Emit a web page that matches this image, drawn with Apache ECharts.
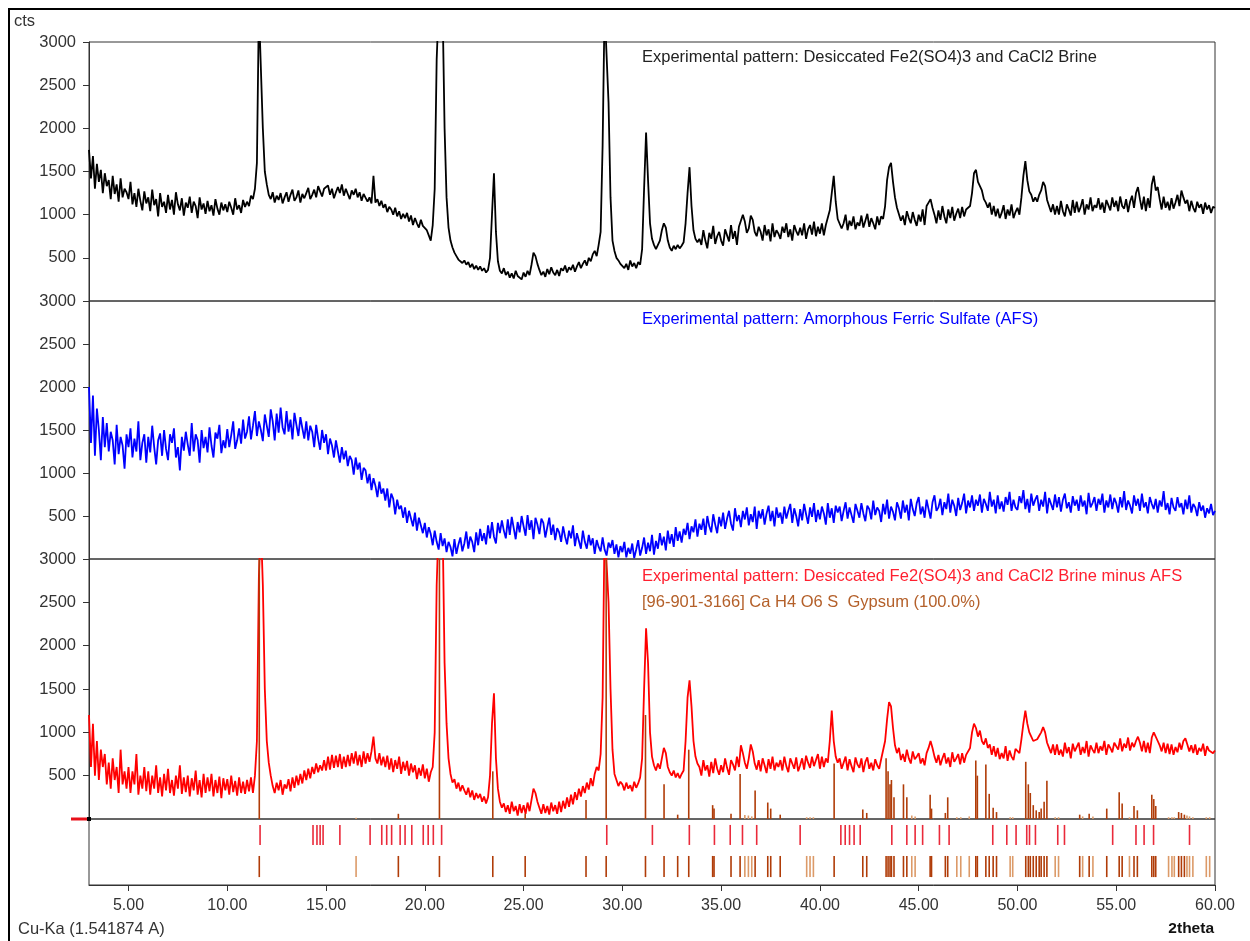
<!DOCTYPE html>
<html><head><meta charset="utf-8">
<script src="https://cdn.jsdelivr.net/npm/echarts@6/dist/echarts.min.js"></script>
<style>
html,body{margin:0;padding:0;background:#fff;}
#frame{position:absolute;left:8px;top:8px;width:1242px;height:933px;border-top:2px solid #000;border-left:2px solid #000;box-sizing:border-box;}
#chart{position:absolute;left:0;top:0;width:1250px;height:941px;}
</style></head><body>
<div id="frame"></div>
<div id="chart"></div>
<script>
// Sampling grid of the patterns (2theta, degrees)
const twoThetaStart = 3.0;
const twoThetaStep = 0.1;

// Panel 1: Desiccated Fe2(SO4)3 and CaCl2 Brine (cts), 3.0 .. 60.0 step 0.1
const brineCounts = [
1750,1420,1680,1300,1590,1380,1520,1250,1480,1330,
1400,1180,1450,1240,1350,1150,1420,1200,1300,1260,
1180,1380,1120,1250,1090,1300,1160,1050,1270,1130,
1200,1040,1290,1110,1180,980,1250,1090,1150,1020,
1230,1060,1170,1000,1260,1120,1050,1190,990,1140,
1080,1210,1020,1150,1100,960,1200,1060,1130,1010,
1160,1040,1110,990,1180,1070,1000,1140,1050,1120,
1030,1150,1080,1000,1190,1060,1110,1020,1170,1090,
1150,1100,1220,1180,1300,1600,3400,3400,2000,1500,
1350,1230,1180,1260,1140,1220,1170,1250,1130,1200,
1260,1150,1230,1290,1160,1200,1280,1140,1240,1190,
1250,1310,1180,1230,1290,1200,1330,1270,1210,1300,
1280,1340,1230,1300,1190,1260,1320,1250,1350,1220,
1300,1240,1180,1280,1230,1300,1200,1260,1160,1240,
1220,1150,1200,1130,1450,1140,1180,1100,1160,1080,
1120,1030,1090,1060,1000,1080,980,1040,950,1010,
960,1020,920,990,880,960,900,850,940,870,
880,820,760,700,880,1300,2800,3400,3400,3400,
2000,1200,850,700,620,560,520,480,500,440,
470,420,450,390,430,370,410,360,400,350,
380,330,360,500,1000,1480,800,460,350,320,
380,300,340,270,320,260,350,290,310,250,
330,280,350,300,420,560,520,430,360,300,
340,280,370,310,390,330,300,360,290,380,
350,410,330,390,360,420,340,400,450,380,
430,470,410,500,460,540,580,520,650,800,
1800,3400,3400,2300,1200,700,580,500,470,430,
450,380,430,360,470,400,440,380,450,420,
600,1300,1950,1400,900,720,650,600,620,700,
820,900,850,700,620,580,640,600,650,610,
640,680,900,1250,1550,1100,820,720,680,720,
650,820,700,610,790,720,870,660,750,800,
700,640,830,760,690,880,720,810,650,860,
870,1000,920,790,840,990,940,800,750,860,
800,700,880,760,830,690,900,740,820,780,
720,860,790,900,740,830,700,880,810,760,
850,760,900,720,830,880,770,920,750,860,
780,900,760,880,900,1050,1250,1450,1150,950,
960,840,900,1000,820,930,870,980,830,910,
870,990,850,930,1010,860,960,900,830,980,
880,980,950,1100,1400,1550,1600,1380,1200,1080,
1060,930,990,880,1040,960,900,1030,940,870,
1000,920,1060,880,1100,1140,1180,1080,1000,900,
1050,940,1100,980,900,1060,960,1090,930,1010,
1070,960,1090,980,1060,1050,1100,1250,1480,1520,
1380,1330,1280,1180,1140,1080,1140,1000,1100,980,
1070,960,1020,1110,950,1060,990,1120,960,1030,
1080,1000,1200,1450,1620,1400,1270,1230,1150,1200,
1150,1230,1280,1380,1330,1170,1100,1030,1120,1000,
1100,1000,1160,1040,980,1120,1060,990,1170,1020,
1150,1030,1090,1180,1000,1120,1060,1200,1040,1110,
1080,1190,1060,1140,1020,1170,1110,1050,1200,1090,
1160,1040,1210,1100,1070,1180,1030,1150,1220,1080,
1250,1320,1180,1060,1210,1040,1190,1080,1350,1450,
1280,1320,1180,1060,1210,1080,1150,1050,1190,1070,
1140,1230,1100,1280,1200,1130,1170,1040,1160,1080,
1030,1150,1080,1120,1010,1140,1060,1110,1020,1090,
1080];

// Panel 2: Amorphous Ferric Sulfate (AFS) (cts)
const afsCounts = [
2000,1350,1900,1200,1750,1500,1150,1650,1300,1580,
1250,1480,1380,1100,1560,1220,1420,1320,1050,1450,
1300,1520,1180,1400,1250,1600,1150,1350,1450,1120,
1420,1240,1550,1300,1100,1380,1460,1200,1500,1280,
1150,1450,1350,1520,1180,1300,1030,1420,1260,1480,
1330,1200,1580,1250,1450,1380,1120,1500,1290,1420,
1240,1530,1320,1180,1470,1400,1560,1230,1380,1290,
1510,1300,1440,1600,1280,1380,1520,1340,1620,1400,
1480,1660,1390,1550,1720,1430,1600,1500,1370,1680,
1550,1420,1740,1600,1380,1690,1470,1760,1530,1450,
1720,1480,1620,1390,1700,1560,1430,1650,1520,1400,
1600,1380,1550,1480,1300,1560,1400,1270,1500,1350,
1450,1220,1400,1320,1180,1380,1250,1120,1300,1160,
1260,1080,1200,1150,980,1180,1040,1120,920,1060,
1030,880,990,800,940,850,720,900,760,820,
680,820,600,760,700,520,690,580,620,480,
600,420,560,470,380,540,330,480,390,300,
420,250,370,290,160,330,200,110,300,150,
240,80,200,140,30,230,60,170,250,90,
180,320,120,260,200,80,310,160,350,210,
300,170,390,240,430,260,180,420,300,450,
330,240,460,280,490,360,230,430,310,500,
380,270,510,340,450,230,480,400,290,470,
420,250,370,480,280,400,220,360,310,200,
380,260,170,330,240,390,150,300,210,120,
330,200,120,280,160,240,60,220,140,90,
250,110,40,190,130,220,60,170,20,150,
80,200,20,130,60,180,10,110,220,40,
130,250,60,190,90,280,50,210,120,300,
160,260,100,330,180,290,140,370,210,320,
190,350,280,420,230,380,310,460,260,410,
340,470,280,500,380,310,520,400,300,490,
380,540,350,470,560,410,330,590,440,510,
370,560,460,600,390,520,430,610,350,560,
470,580,400,530,620,440,560,380,600,480,
540,410,610,470,560,640,420,590,500,380,
580,450,640,520,410,600,490,650,430,570,
460,610,530,400,650,480,590,420,620,540,
610,440,560,660,470,600,510,420,640,560,
480,650,530,440,620,580,460,680,510,600,
560,430,640,520,690,470,610,550,450,660,
590,470,680,540,630,450,700,580,500,650,
720,520,610,480,690,580,470,660,740,560,
600,700,510,660,580,760,540,690,620,500,
710,570,650,760,530,680,600,740,560,690,
620,750,540,700,640,560,780,610,690,530,
740,580,670,550,720,630,780,560,690,600,
570,730,650,800,580,700,540,760,620,690,
740,560,690,610,780,530,710,640,570,750,
600,720,550,690,760,590,660,540,730,620,
690,560,740,610,680,520,770,600,650,720,
560,700,630,760,540,680,600,750,580,710,
650,540,720,600,790,570,680,620,530,740,
620,700,560,760,600,660,530,720,640,580,
700,540,680,610,790,570,650,520,710,600,
560,720,600,650,520,690,580,740,540,640,
600,500,660,560,620,480,590,530,640,510,
560];

// Panel 3: Desiccated Fe2(SO4)3 and CaCl2 Brine minus AFS (cts)
const diffCounts = [
1200,600,1100,500,900,450,800,600,750,400,
650,350,700,450,600,300,800,400,550,350,
600,300,550,400,750,280,500,350,600,320,
550,280,500,350,620,300,480,260,520,330,
580,300,450,270,500,350,620,290,480,310,
500,260,470,330,560,280,450,250,520,300,
480,320,520,260,450,300,490,240,470,330,
460,280,500,310,440,270,480,300,430,290,
450,320,480,300,500,900,2800,3400,2700,1500,
900,650,500,380,300,420,330,450,280,400,
350,460,320,480,360,500,390,520,410,560,
450,580,470,600,520,640,540,620,560,680,
560,720,570,740,590,730,600,750,580,720,
600,740,610,760,640,780,620,740,600,780,
640,760,660,780,950,700,640,760,620,720,
600,730,570,700,540,680,580,720,520,660,
560,670,500,640,540,620,460,590,500,630,
470,580,430,540,600,1000,2700,3400,3400,3400,
1800,1100,700,520,420,460,350,420,320,390,
330,280,360,250,330,220,300,240,290,200,
260,180,250,500,1100,1450,700,350,200,130,
180,80,160,60,200,90,150,40,170,70,
160,60,190,90,220,350,300,200,130,60,
170,70,150,50,190,90,160,60,200,80,
210,120,250,140,280,170,310,220,350,260,
380,300,420,340,470,380,520,600,560,750,
1400,3400,3400,2500,1500,800,520,450,380,430,
400,330,420,350,390,320,430,360,410,480,
700,1500,2200,1800,1000,720,620,560,640,580,
700,820,760,600,540,500,560,480,530,470,
520,560,900,1400,1600,1300,900,720,640,600,
500,680,560,620,490,660,530,700,580,510,
620,540,700,590,510,680,630,560,720,600,
850,760,650,580,700,860,780,640,570,680,
550,700,620,530,690,580,720,560,650,600,
680,560,720,610,540,700,640,580,710,550,
620,700,570,730,650,590,720,610,680,750,
580,720,600,700,650,900,1250,900,720,650,
700,580,650,720,560,690,610,540,710,630,
590,700,540,660,710,580,650,560,690,620,
580,690,680,900,1150,1350,1300,1050,850,760,
820,680,750,660,800,700,640,780,690,720,
760,640,700,620,760,820,900,820,720,650,
740,620,700,760,640,710,600,770,660,700,
750,630,760,650,740,720,820,1000,1100,1050,
950,1020,900,860,930,820,860,740,840,720,
820,690,760,700,840,670,790,720,680,810,
800,760,920,1100,1250,1100,1000,950,900,880,
920,960,1000,1060,1000,880,820,760,860,740,
860,740,800,720,880,760,830,700,870,780,
790,880,740,830,760,900,720,850,800,760,
880,760,840,790,900,740,860,820,770,880,
900,800,930,780,870,820,940,790,880,830,
900,950,880,780,900,770,880,760,940,1000,
980,900,850,780,880,760,870,750,860,740,
830,770,880,800,900,930,860,780,850,760,
860,740,820,780,870,730,840,790,810,760,
790];

// Reference pattern [96-901-3166] Gypsum: [2theta, cts]
const gypsumLines = [
[11.62,3300],[16.52,15],[18.66,60],[20.74,3300],[23.44,550],[25.08,60],[28.16,220],[29.18,3300],
[31.17,1200],[32.11,400],[32.80,50],[33.36,800],[34.57,160],[34.64,120],[35.50,60],[35.96,520],
[36.20,45],[36.38,40],[36.55,30],[36.72,330],[37.36,190],[37.51,120],[37.99,50],[39.33,20],
[39.50,20],[39.67,20],[40.72,640],[42.17,110],[42.37,70],[43.35,700],[43.45,550],[43.55,400],
[43.62,450],[43.75,250],[44.23,400],[44.40,250],[44.65,40],[44.82,30],[45.58,280],[45.65,120],
[46.35,70],[46.47,250],[46.93,20],[47.13,20],[47.56,30],[47.89,675],[47.97,500],[48.40,630],
[48.57,290],[48.77,130],[48.94,80],[49.63,20],[49.76,20],[50.42,660],[50.55,400],[50.65,300],
[50.80,160],[50.95,100],[51.10,80],[51.20,120],[51.35,200],[51.49,440],[51.91,20],[52.08,20],
[53.15,50],[53.30,30],[53.63,60],[53.82,30],[54.52,120],[55.15,310],[55.30,180],[55.67,20],
[55.90,150],[56.07,100],[56.80,280],[56.90,230],[57.00,150],[57.65,20],[57.82,20],[57.94,20],
[58.16,80],[58.30,70],[58.45,50],[58.58,40],[58.71,30],[58.88,20],[59.56,20],[59.73,20]];

// Experimental peak list (2theta)
const peakList = [11.66,14.34,14.54,14.70,14.85,15.70,17.23,17.82,18.07,18.32,18.75,19.00,19.34,
19.92,20.17,20.43,20.85,29.21,31.52,33.39,34.66,35.46,36.08,36.80,39.00,41.06,41.28,41.50,41.73,
42.04,43.64,44.40,44.82,45.20,46.05,46.54,48.75,49.46,49.93,50.47,50.61,50.91,52.04,52.38,54.82,
56.00,56.41,56.89,58.71];

const xTickValues = [5,10,15,20,25,30,35,40,45,50,55,60];
const titles = [
  'Experimental pattern: Desiccated Fe2(SO4)3 and CaCl2 Brine',
  'Experimental pattern: Amorphous Ferric Sulfate (AFS)',
  'Experimental pattern: Desiccated Fe2(SO4)3 and CaCl2 Brine minus AFS',
  '[96-901-3166] Ca H4 O6 S  Gypsum (100.0%)'
];

function toPairs(arr){ return arr.map((v,i)=>[+(twoThetaStart + i*twoThetaStep).toFixed(2), v]); }

const FONT = 'Liberation Sans';
const FS = 16.5;
const chart = echarts.init(document.getElementById('chart'));
const gridPos = [
  {left:89, top:42, width:1126, height:259},
  {left:89, top:301, width:1126, height:258},
  {left:89, top:559, width:1126, height:260},
  {left:89, top:819, width:1126, height:66}
];
const grids = gridPos.map(g => Object.assign({show:true, borderColor:'#333', borderWidth:1, backgroundColor:'transparent', outerBoundsMode:'none'}, g));

const xAxes = gridPos.map((g,i)=>({
  type:'value', gridIndex:i, min:3, max:60,
  splitLine:{show:false},
  axisLine:{show: i===3, onZero:false, lineStyle:{color:'#333'}},
  axisTick:{show: i===3, inside:false, length:6, customValues:xTickValues, lineStyle:{color:'#333'}},
  axisLabel:{show: i===3, customValues:xTickValues, margin:13, color:'#333', fontFamily:FONT, fontSize:16,
    formatter: v => v.toFixed(2)}
}));
const yAxes = [0,1,2].map(i=>({
  type:'value', gridIndex:i, min:0, max:3000, interval:500,
  splitLine:{show:false},
  axisLine:{show:true, lineStyle:{color:'#333'}},
  axisTick:{show:true, length:6, lineStyle:{color:'#333'}},
  axisLabel:{color:'#333', fontFamily:FONT, fontSize:FS, margin:13,
    formatter: v => v === 0 ? '' : String(v)}
}));
yAxes.push({type:'value', gridIndex:3, min:0, max:3, show:false});

function stickColor(h){ return h >= 50 ? '#b03c08' : '#dc9a68'; }

const LW = 1.8;
const series = [
  {type:'line', xAxisIndex:0, yAxisIndex:0, data:toPairs(brineCounts), showSymbol:false, symbol:'none',
    lineStyle:{color:'#000', width:LW}, clip:true},
  {type:'line', xAxisIndex:1, yAxisIndex:1, data:toPairs(afsCounts), showSymbol:false, symbol:'none',
    lineStyle:{color:'#0000ff', width:LW}, clip:true},
  {type:'line', xAxisIndex:2, yAxisIndex:2, data:toPairs(diffCounts), showSymbol:false, symbol:'none',
    lineStyle:{color:'#ff0000', width:LW}, clip:true},
  {type:'custom', xAxisIndex:2, yAxisIndex:2, data:gypsumLines, clip:true, z:5,
    renderItem:(params, api)=>{
      const x = api.value(0), h = api.value(1);
      const p0 = api.coord([x,0]), p1 = api.coord([x,h]);
      return {type:'line', shape:{x1:p0[0],y1:p0[1],x2:p1[0],y2:p1[1]},
        style:{stroke:stickColor(h), lineWidth:1.6}};
    }},
  {type:'custom', xAxisIndex:3, yAxisIndex:3, data:peakList.map(v=>[v]), clip:true,
    renderItem:(params, api)=>{
      const x = api.value(0);
      const p0 = api.coord([x,2.73]), p1 = api.coord([x,1.82]);
      return {type:'line', shape:{x1:p0[0],y1:p0[1],x2:p1[0],y2:p1[1]},
        style:{stroke:'#ea2a3a', lineWidth:1.6}};
    }},
  {type:'custom', xAxisIndex:3, yAxisIndex:3, data:gypsumLines, clip:true,
    renderItem:(params, api)=>{
      const x = api.value(0), h = api.value(1);
      const p0 = api.coord([x,1.32]), p1 = api.coord([x,0.36]);
      return {type:'line', shape:{x1:p0[0],y1:p0[1],x2:p1[0],y2:p1[1]},
        style:{stroke:stickColor(h), lineWidth:1.6}};
    }}
];

const txt = (text, left, top, color, extra) => Object.assign({
  text, left, top, padding:0,
  textStyle:{color, fontFamily:FONT, fontSize:FS, fontWeight:'normal'}
}, extra||{});

chart.setOption({
  animation:false,
  backgroundColor:'transparent',
  grid:grids, xAxis:xAxes, yAxis:yAxes, series,
  title:[
    txt('cts', 14, 13, '#333'),
    txt(titles[0], 642, 49, '#222'),
    txt(titles[1], 642, 311, '#0000ff'),
    txt(titles[2], 642, 568, '#ff1f2f'),
    txt(titles[3], 642, 594, '#b4602a'),
    txt('Cu-Ka (1.541874 A)', 18, 921, '#333'),
    {text:'2theta', right:36, top:921, padding:0, textStyle:{color:'#111', fontFamily:FONT, fontSize:15.5, fontWeight:'bold'}}
  ]
});

// zero marker of the difference panel
const z = chart.convertToPixel({gridIndex:2}, [3,0]);
chart.setOption({graphic:[
  {type:'rect', shape:{x:z[0]-18, y:z[1]-1.5, width:18, height:3}, style:{fill:'#e8101a'}, z:100},
  {type:'rect', shape:{x:z[0]-2, y:z[1]-2, width:4, height:4}, style:{fill:'#000'}, z:101}
]});
</script>
</body></html>
